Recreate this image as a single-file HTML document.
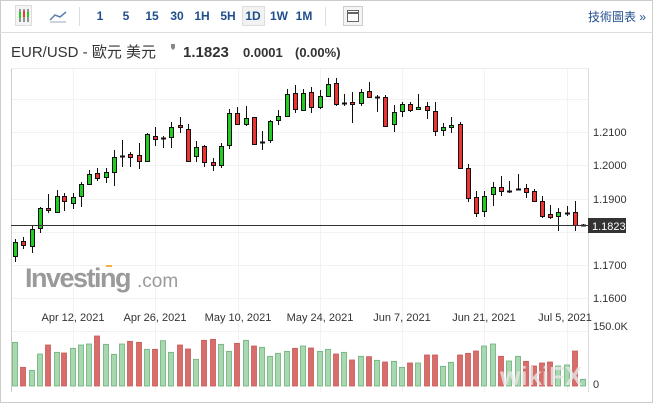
<!DOCTYPE html>
<html><head><meta charset="utf-8"><style>
body{margin:0;background:#fff;width:653px;height:403px;overflow:hidden;font-family:"Liberation Sans","Noto Sans CJK TC",sans-serif}
svg{position:absolute;left:0;top:0}
</style></head><body>
<svg id="s" width="653" height="403" xmlns="http://www.w3.org/2000/svg" font-family="Liberation Sans, Noto Sans CJK TC, sans-serif">
<rect x="0.5" y="0.5" width="652" height="402" fill="#fff" stroke="#ccc"/>
<line x1="0" y1="32.5" x2="653" y2="32.5" stroke="#ddd"/>
<rect x="15.5" y="5.5" width="16" height="20" fill="#f4f4f4" stroke="#ddd"/>
<g stroke="#333"><line x1="20" y1="9" x2="20" y2="22"/><line x1="24" y1="9" x2="24" y2="22"/><line x1="28" y1="9" x2="28" y2="22"/></g>
<rect x="19" y="12" width="2" height="6" fill="#2c2"/><rect x="23" y="11" width="2" height="6" fill="#e33"/><rect x="27" y="12" width="2" height="5" fill="#2c2"/>
<polyline points="50,20 55,15 60,17 66,12" fill="none" stroke="#5a7fb0" stroke-width="1.5"/>
<line x1="50" y1="22" x2="66" y2="22" stroke="#9ab"/>
<line x1="79.5" y1="7" x2="79.5" y2="26" stroke="#ddd"/>
<g font-size="12" font-weight="bold" fill="#1f4e8c" text-anchor="middle">
<text x="100" y="20">1</text><text x="126" y="20">5</text><text x="152" y="20">15</text><text x="177" y="20">30</text><text x="202" y="20">1H</text><text x="228" y="20">5H</text>
<rect x="242.5" y="6.5" width="22" height="19" fill="#f2f2f2" stroke="#ddd"/>
<text x="253" y="20">1D</text><text x="279" y="20">1W</text><text x="304" y="20">1M</text></g>
<line x1="325.5" y1="7" x2="325.5" y2="26" stroke="#ddd"/>
<rect x="343.5" y="6.5" width="19" height="19" fill="#f4f4f4" stroke="#ccc"/>
<rect x="347.5" y="10.5" width="11" height="11" fill="#fff" stroke="#666"/>
<line x1="348" y1="13" x2="358" y2="13" stroke="#666" stroke-width="2"/>
<text x="646" y="21" font-size="12" fill="#1f4e8c" text-anchor="end">技術圖表 »</text>
<text x="11" y="57" font-size="15" fill="#333">EUR/USD - 歐元 美元</text>
<path d="M171 44 l4 0 l0 4 l-2 2 l-2 -2z" fill="#888"/>
<text x="183" y="57" font-size="15" font-weight="bold" fill="#333">1.1823</text>
<text x="243" y="57" font-size="13" font-weight="bold" fill="#333">0.0001</text>
<text x="295" y="57" font-size="13" font-weight="bold" fill="#333">(0.00%)</text>
<line x1="11.5" y1="68" x2="11.5" y2="392" stroke="#ccc"/>
<line x1="588.5" y1="68" x2="588.5" y2="392" stroke="#ddd"/>
<line x1="11" y1="68.5" x2="588" y2="68.5" stroke="#eee"/>
<g id="grid" stroke="#f2f2f2"></g>
<g font-weight="bold" fill="#9a9a9a"><text x="25" y="287" font-size="27" letter-spacing="-1.5">Investing</text><text x="137" y="287" font-size="19" font-weight="normal">.com</text></g>
<rect x="106" y="265" width="6" height="2" fill="#f5b041"/>
<g id="vol"></g>
<g id="c"></g>
<line x1="11" y1="225.5" x2="588" y2="225.5" stroke="#333"/>
<g font-size="11" fill="#333">
<text x="593" y="136">1.2100</text><text x="593" y="169">1.2000</text><text x="593" y="203">1.1900</text><text x="593" y="269">1.1700</text><text x="593" y="302">1.1600</text>
<text x="593" y="330">150.0K</text><text x="593" y="388">0</text></g>
<rect x="588" y="218" width="38" height="15" fill="#333"/>
<text x="592" y="230" font-size="11" fill="#fff">1.1823</text>
<g font-size="11" fill="#333" text-anchor="middle">
<text x="73" y="321">Apr 12, 2021</text><text x="155" y="321">Apr 26, 2021</text><text x="238" y="321">May 10, 2021</text><text x="320" y="321">May 24, 2021</text><text x="402" y="321">Jun 7, 2021</text><text x="484" y="321">Jun 21, 2021</text><text x="565" y="321">Jul 5, 2021</text></g>
<text x="500" y="385" font-size="26" font-weight="bold" fill="#e8e8e8" opacity="0.8">wikiFX</text>
</svg>
<script>
var C=[[15,1,242,256,239,262],[23,0,241,245,237,249],[32,1,229,246,226,253],[40,1,208,228,207,233],[48,0,208,210,194,213],[57,1,196,212,190,213],[64,0,196,201,193,211],[73,1,197,203,193,209],[81,1,184,196,182,207],[89,1,174,184,170,185],[97,0,173,178,168,181],[106,1,172,177,168,183],[114,1,157,172,150,186],[122,2,156,156,140,167],[130,0,154,157,152,167],[139,0,155,161,143,169],[147,1,134,161,133,162],[155,0,136,139,127,146],[163,2,138,138,136,148],[171,1,127,137,122,148],[180,0,125,127,117,133],[188,0,129,161,124,162],[196,1,147,156,141,162],[204,0,146,162,145,167],[213,0,162,165,158,171],[221,1,146,165,143,168],[229,1,113,145,109,149],[237,0,113,124,107,124],[246,1,118,124,106,126],[254,0,117,144,117,145],[262,2,142,142,131,150],[270,1,121,140,120,143],[278,1,116,120,110,125],[287,1,94,116,89,117],[295,0,93,109,85,113],[303,1,93,110,89,110],[311,0,92,107,87,113],[320,1,96,107,90,109],[328,1,84,96,78,97],[336,0,83,104,78,106],[344,2,103,103,94,106],[352,0,102,104,92,123],[361,1,92,103,89,106],[369,0,91,97,82,97],[377,2,97,97,95,112],[385,0,97,126,95,127],[394,1,112,124,105,132],[402,1,104,111,102,117],[410,0,104,110,102,112],[418,1,107,109,94,109],[427,0,106,110,102,119],[435,0,111,131,102,136],[443,1,127,130,123,136],[451,1,125,127,117,133],[460,0,124,168,122,169],[468,0,168,198,164,202],[476,0,197,213,191,217],[484,1,196,211,191,217],[493,1,187,194,182,206],[501,0,187,191,176,196],[509,2,191,191,181,193],[518,2,189,189,174,190],[526,0,188,192,184,198],[534,0,191,201,189,202],[542,0,201,216,196,218],[550,0,214,217,205,219],[558,1,212,216,208,231],[567,2,213,213,206,216],[575,0,212,225,201,231],[583,2,225,225,224,226]];
var V=[127,202,211,162,135,157,159,145,135,132,108,133,163,132,124,127,148,148,122,157,135,147,178,121,118,133,154,130,121,138,142,169,160,154,145,138,144,154,148,162,157,180,169,170,181,186,184,202,189,189,165,165,199,187,165,160,153,138,132,169,183,169,184,198,189,186,198,195,153,238];
var ns="http://www.w3.org/2000/svg";
function el(p,t,a){var e=document.createElementNS(ns,t);for(var k in a)e.setAttribute(k,a[k]);document.getElementById(p).appendChild(e);}
[73,155,238,320,402,484,567].forEach(function(x){el("grid","line",{x1:x+.5,y1:69,x2:x+.5,y2:392});});
[99,132,165,199,232,265,298,331].forEach(function(y){el("grid","line",{x1:12,y1:y+.5,x2:588,y2:y+.5});});
C.forEach(function(c,i){var x=c[0];
el("c","line",{x1:x+.5,y1:c[4],x2:x+.5,y2:c[5],stroke:"#111","stroke-width":1});
var h=Math.max(c[3]-c[2],1);
if(c[1]==2){el("c","rect",{x:x-2,y:c[2]-.5,width:5,height:2,fill:"#111"});}
else el("c","rect",{x:x-1.5,y:c[2]+.5,width:4,height:h,fill:c[1]?"#22cc22":"#ee3333",stroke:"#111","stroke-width":1});
var t=300+V[i]/3,g=c[1]!=0;
el("vol","rect",{x:x-2.5,y:t,width:5,height:386-t,fill:g?"#a8d8b0":"#d86e6c",stroke:g?"#6bb07a":"#c85a58","stroke-width":.8});
});
</script>
</body></html>
